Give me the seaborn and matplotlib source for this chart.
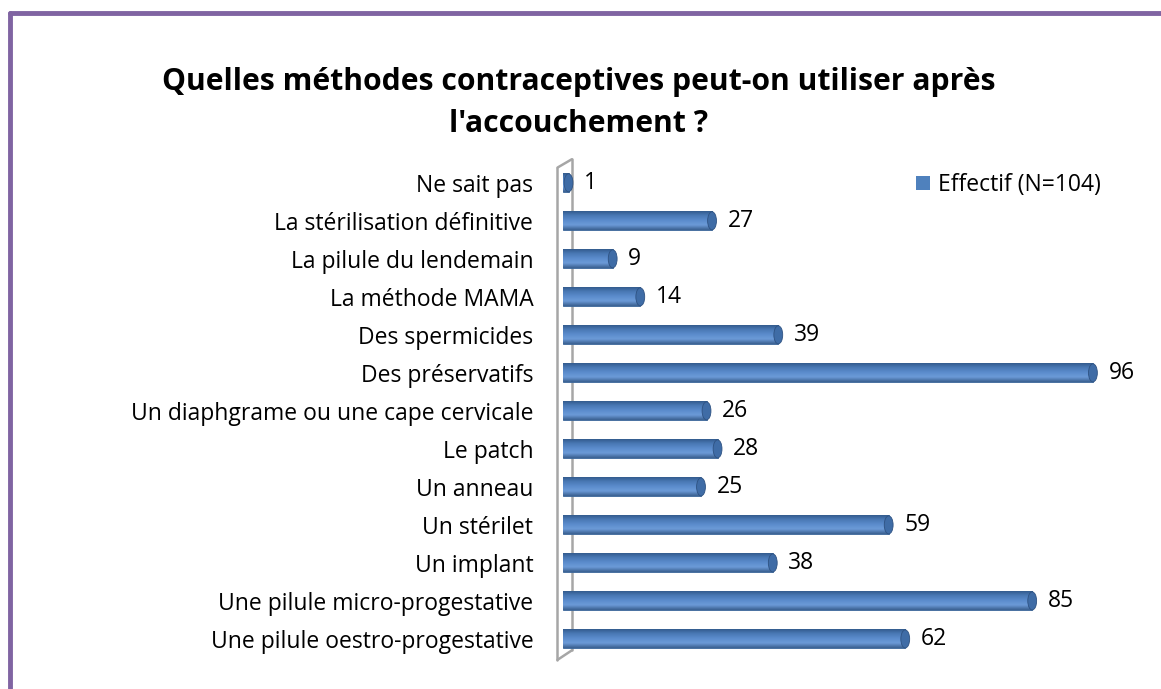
import numpy as np
import pandas as pd
import matplotlib
matplotlib.use("Agg")
import matplotlib.pyplot as plt
from matplotlib.lines import Line2D
from matplotlib.patches import Ellipse, Patch
import seaborn as sns

# Données
categories = [
    "Ne sait pas",
    "La stérilisation définitive",
    "La pilule du lendemain",
    "La méthode MAMA",
    "Des spermicides",
    "Des préservatifs",
    "Un diaphgrame ou une cape cervicale",
    "Le patch",
    "Un anneau",
    "Un stérilet",
    "Un implant",
    "Une pilule micro-progestative",
    "Une pilule oestro-progestative",
]
effectifs = [1, 27, 9, 14, 39, 96, 26, 28, 25, 59, 38, 85, 62]
serie = "Effectif (N=104)"
titre = "Quelles méthodes contraceptives peut-on utiliser après\nl'accouchement ?"

df = pd.DataFrame({"methode": categories, "effectif": effectifs})

sns.set_style("white")
plt.rcParams["font.family"] = ["Open Sans", "DejaVu Sans"]
plt.rcParams["text.color"] = "black"
plt.rcParams["ytick.color"] = "black"
fs = 16.5

W, H = 1161, 689
fig = plt.figure(figsize=(W / 100, H / 100), dpi=100)
fig.patch.set_facecolor("white")

# axe : 0 a x=563px, 5.52 px par unité
x0_px, scale = 563, 5.52
xmin, xmax = -1.1, 100
left_px = x0_px + xmin * scale
right_px = x0_px + xmax * scale
top_px, bottom_px = 160, 661
ax = fig.add_axes([left_px / W, 1 - bottom_px / H,
                   (right_px - left_px) / W, (bottom_px - top_px) / H])

blue = "#4F81BD"
sns.barplot(data=df, x="effectif", y="methode", orient="h", color=blue,
            width=0.5, ax=ax, saturation=1, edgecolor="#3B6597", linewidth=0.6,
            zorder=3)

# effet cylindre : dégradé vertical dans chaque barre + extrémité
grad = np.linspace(0, 1, 64).reshape(-1, 1)
cmap = matplotlib.colors.LinearSegmentedColormap.from_list(
    "cyl", ["#3A6090", "#6C9BD8", "#5A8BCB", "#4877B3", "#2F5585"])
for p in ax.patches:
    x, y = p.get_x(), p.get_y()
    w, h = p.get_width(), p.get_height()
    im = ax.imshow(grad, cmap=cmap, aspect="auto", zorder=3.5,
                   extent=[x, x + w, y, y + h], interpolation="bicubic")
    im.set_clip_path(p)
    cap = Ellipse((x + w, y + h / 2), width=1.6, height=h * 0.95,
                  facecolor="#3F6CA6", edgecolor="#2E5282", lw=0.6, zorder=4)
    ax.add_patch(cap)
    ax.text(x + w + 2.8, y + h / 2, str(int(w)), ha="left", va="center",
            fontsize=fs, color="black", zorder=5)
ax.set_xlim(xmin, xmax)
ax.set_ylim(12.58, -0.6)

# paroi 3D à gauche
wall_kw = dict(color="#A6A6A6", lw=1.8, clip_on=False, zorder=1)
ax.add_line(Line2D([-1.0, -1.0], [-0.40, 12.55], **wall_kw))
ax.add_line(Line2D([1.6, 1.6], [-0.62, 12.3], **wall_kw))
ax.add_line(Line2D([-1.0, 1.6], [-0.40, -0.62], **wall_kw))
ax.add_line(Line2D([-1.0, 1.6], [12.55, 12.3], **wall_kw))

sns.despine(ax=ax, left=True, bottom=True)
ax.set_xticks([])
ax.set_xlabel("")
ax.set_ylabel("")
ax.tick_params(axis="y", length=0, pad=17, labelsize=fs, labelcolor="black")
ax.set_facecolor("none")

handles = [Patch(facecolor="#4F81BD", edgecolor="none", label=serie)]
ax.legend(handles=handles, loc="upper right", bbox_to_anchor=(1.012, 1.015),
          frameon=False, fontsize=fs, handlelength=0.6, handleheight=0.6,
          handletextpad=0.35, borderaxespad=0.5, labelcolor="black")

fig.text(579 / W, 1 - 103 / H, titre, ha="center", va="center",
         fontsize=21.7, fontweight="bold", linespacing=1.55, color="black")

# cadre violet
purple = "#8064A2"
fig.add_artist(Line2D([10 / W, 10 / W], [0, 1 - 13 / H], color=purple,
                      lw=3.5, transform=fig.transFigure))
fig.add_artist(Line2D([10 / W, 1], [1 - 13 / H, 1 - 13 / H], color=purple,
                      lw=3.5, transform=fig.transFigure))

fig.savefig("out.png", dpi=100)
